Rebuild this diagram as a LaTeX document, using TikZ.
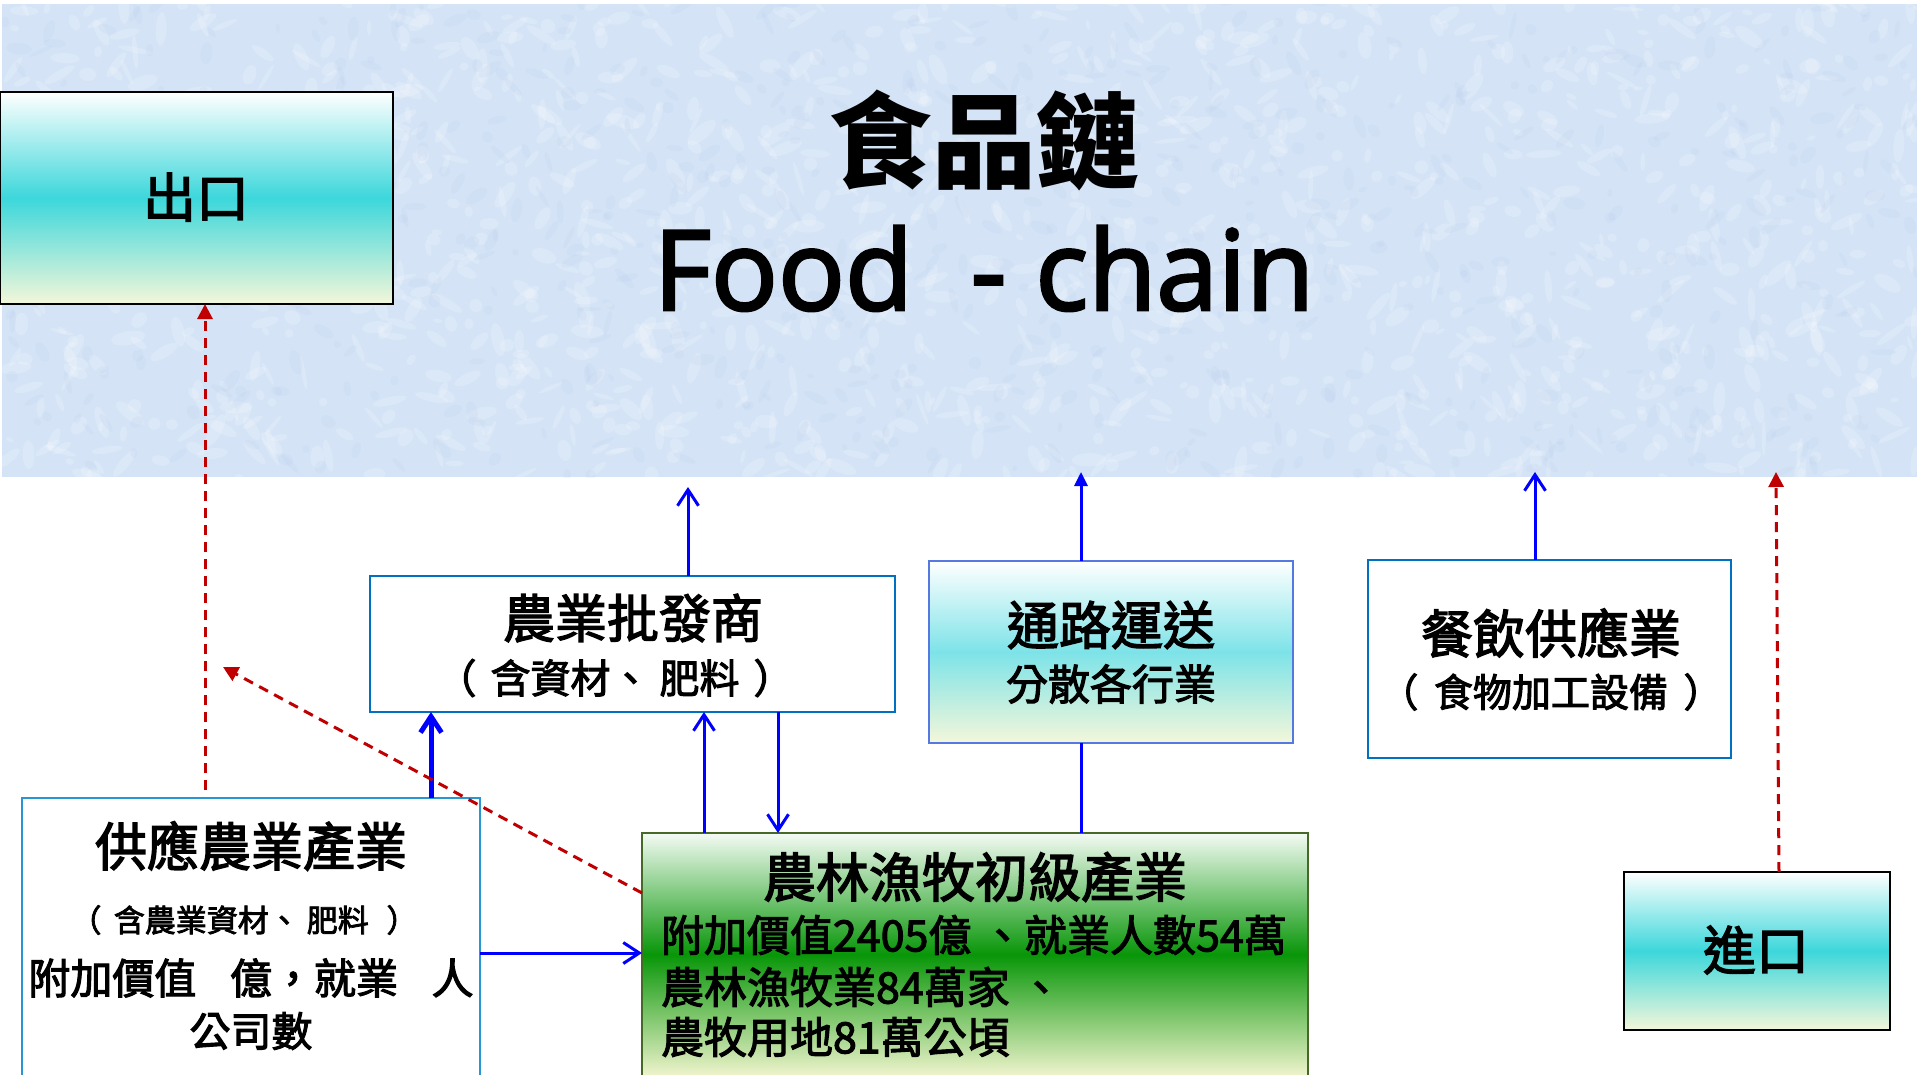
\documentclass[tikz,border=0pt]{standalone}
\usepackage{fontspec}
\newfontfamily\cjk{Noto Sans CJK TC}
\newfontfamily\cjkm{Noto Sans CJK TC}[FakeBold=2.6]
\newfontfamily\latinf{Open Sans}[FakeBold=2.5]
\usetikzlibrary{arrows.meta,calc}
\newcommand\fsz[1]{\fontsize{#1}{#1}\selectfont}
\definecolor{bandc}{RGB}{212,227,246}
\definecolor{cyanm}{RGB}{60,215,219}
\definecolor{yelb}{RGB}{244,247,218}
\definecolor{tlcyan}{RGB}{125,227,232}
\definecolor{tlborder}{RGB}{85,120,225}
\definecolor{pbblue}{RGB}{0,112,192}
\definecolor{gyblue}{RGB}{40,150,210}
\definecolor{greenm}{RGB}{8,150,8}
\definecolor{greent}{RGB}{244,251,244}
\definecolor{greenb}{RGB}{240,244,205}
\definecolor{nlborder}{RGB}{70,105,40}
\definecolor{redd}{RGB}{192,0,0}
\definecolor{blobdark}{RGB}{188,208,238}
\begin{document}
\begin{tikzpicture}[x=1pt,y=-1pt,
  box/.style={rectangle, inner sep=0pt, outer sep=0pt, anchor=north west},
  txt/.style={inner sep=0pt, outer sep=0pt, font=\cjkm},
  barrow/.style={draw=blue, line width=3pt, -{Straight Barb[length=16pt,width=21pt]}},
  farrow/.style={draw=blue, line width=3pt, -{Triangle[length=14pt,width=13pt]}},
  plainline/.style={draw=blue, line width=3pt},
  rarrow/.style={draw=redd, line width=3pt, dash pattern=on 10pt off 7pt, -{Triangle[length=15pt,width=15pt]}}]
\useasboundingbox (0,0) rectangle (1920,1074);
% textured band
\fill[bandc] (2,4) rectangle (1917,477);
\begin{scope}
\clip (2,4) rectangle (1917,477);
\pgfmathsetseed{12}
\foreach \i in {1,...,1400}{
  \pgfmathsetmacro\xa{rnd*1920}
  \pgfmathsetmacro\ya{rnd*480}
  \pgfmathsetmacro\ra{4+rnd*14}
  \pgfmathsetmacro\rb{2+rnd*5}
  \pgfmathsetmacro\rt{rnd*180}
  \fill[white,opacity=0.18,rotate around={\rt:(\xa,\ya)}] (\xa,\ya) ellipse [x radius=\ra, y radius=\rb];
}
\foreach \i in {1,...,700}{
  \pgfmathsetmacro\xa{rnd*1920}
  \pgfmathsetmacro\ya{rnd*480}
  \pgfmathsetmacro\ra{3+rnd*10}
  \pgfmathsetmacro\rb{2+rnd*4}
  \pgfmathsetmacro\rt{rnd*180}
  \fill[blobdark,opacity=0.18,rotate around={\rt:(\xa,\ya)}] (\xa,\ya) ellipse [x radius=\ra, y radius=\rb];
}
\end{scope}
% title
\node[txt, font={\cjk\bfseries\fsz{104}}] (tt1) at (984,140) {食品鏈};
\node[txt, anchor=base, font={\latinf\fsz{111}}] (tt2) at (984,310) {Food~~-~chain};
% boxes
\node[box, draw=black, line width=2.5pt, top color=white, bottom color=yelb, middle color=cyanm,
  minimum width=393pt, minimum height=212pt] (ck) at (0,92) {};
\node[box, draw=black, line width=2.5pt, top color=white, bottom color=yelb, middle color=cyanm,
  minimum width=266pt, minimum height=158pt] (jk) at (1624,872) {};
\node[box, draw=pbblue, line width=2.5pt, fill=white,
  minimum width=525pt, minimum height=136pt] (pf) at (370,576) {};
\node[box, draw=tlborder, line width=2pt, top color=white, bottom color=yelb, middle color=tlcyan,
  minimum width=364pt, minimum height=182pt] (tl) at (929,561) {};
\node[box, draw=pbblue, line width=2.5pt, fill=white,
  minimum width=363pt, minimum height=198pt] (cy) at (1368,560) {};
\node[box, draw=gyblue, line width=2pt, fill=white,
  minimum width=458pt, minimum height=282pt] (gy) at (22,798) {};
\node[box, draw=nlborder, line width=2.5pt, top color=greent, bottom color=greenb, middle color=greenm,
  minimum width=666pt, minimum height=243pt] (nl) at (642,833) {};
% box texts
\node[txt, font={\cjkm\fsz{53}}] (ckt) at (196,197) {出口};
\node[txt, font={\cjkm\fsz{53}}] (jkt) at (1756,950) {進口};
\node[txt, font={\cjkm\fsz{52}}] (pft1) at (633,618) {農業批發商};
\node[txt, font={\cjkm\fsz{40}}] (pft2) at (615,678) {（\hspace{0.35em}含資材、 肥料\hspace{0.35em}）};
\node[txt, font={\cjkm\fsz{52}}] (tlt1) at (1111,625) {通路運送};
\node[txt, font={\cjkm\fsz{42}}] (tlt2) at (1111,684) {分散各行業};
\node[txt, font={\cjkm\fsz{52}}] (cyt1) at (1551,633) {餐飲供應業};
\node[txt, font={\cjkm\fsz{39}}] (cyt2) at (1551,692) {（\hspace{0.4em}食物加工設備\hspace{0.4em}）};
\node[txt, font={\cjkm\fsz{52}}] (gyt1) at (251,846) {供應農業產業};
\node[txt, font={\cjkm\fsz{31}}] (gyt2) at (244,920) {（\hspace{0.4em}含農業資材、 肥料 \hspace{0.35em}）};
\node[txt, font={\cjkm\fsz{42}}] (gyt3) at (251,978) {附加價值\hspace{0.8em}億，就業\hspace{0.8em}人};
\node[txt, font={\cjkm\fsz{41}}] (gyt4) at (251,1031) {公司數};
\node[txt, font={\cjkm\fsz{53}}] (nlt1) at (975,877) {農林漁牧初級產業};
\node[txt, anchor=west, font={\cjkm\fsz{43}}] (nlt2) at (661,935) {附加價值2405億 、就業人數54萬};
\node[txt, anchor=west, font={\cjkm\fsz{43}}] (nlt3) at (661,987) {農林漁牧業84萬家 、};
\node[txt, anchor=west, font={\cjkm\fsz{43}}] (nlt4) at (661,1037) {農牧用地81萬公頃};
% free ends
\coordinate (t1) at (688,487);
\coordinate (t2) at (1081,472);
\coordinate (t3) at (1535,472);
\coordinate (t4) at (1776,472);
\coordinate (t5) at (223,667);
% blue connectors
\draw[barrow] ($(pf.north west)+(318,0)$) -- (t1);
\draw[barrow, line width=5pt] ($(gy.north west)+(409,0)$) -- ($(pf.south west)+(61,0)$);
\draw[barrow] ($(nl.north west)+(62,0)$) -- ($(pf.south west)+(334,0)$);
\draw[barrow] ($(pf.south west)+(408,0)$) -- ($(nl.north west)+(136,0)$);
\draw[plainline] ($(nl.north west)+(439,0)$) -- ($(tl.south west)+(152,0)$);
\draw[farrow] ($(tl.north west)+(152,0)$) -- (t2);
\draw[barrow] ($(cy.north west)+(167,0)$) -- (t3);
\draw[barrow] ($(gy.north east)+(0,155)$) -- ($(nl.north west)+(0,120)$);
% red connectors
\draw[rarrow] ($(jk.north west)+(155,0)$) -- (t4);
\draw[rarrow] ($(gy.north west)+(183,-8)$) -- ($(ck.south west)+(205,0)$);
\draw[rarrow] ($(nl.north west)+(0,60)$) -- (t5);
\end{tikzpicture}
\end{document}
